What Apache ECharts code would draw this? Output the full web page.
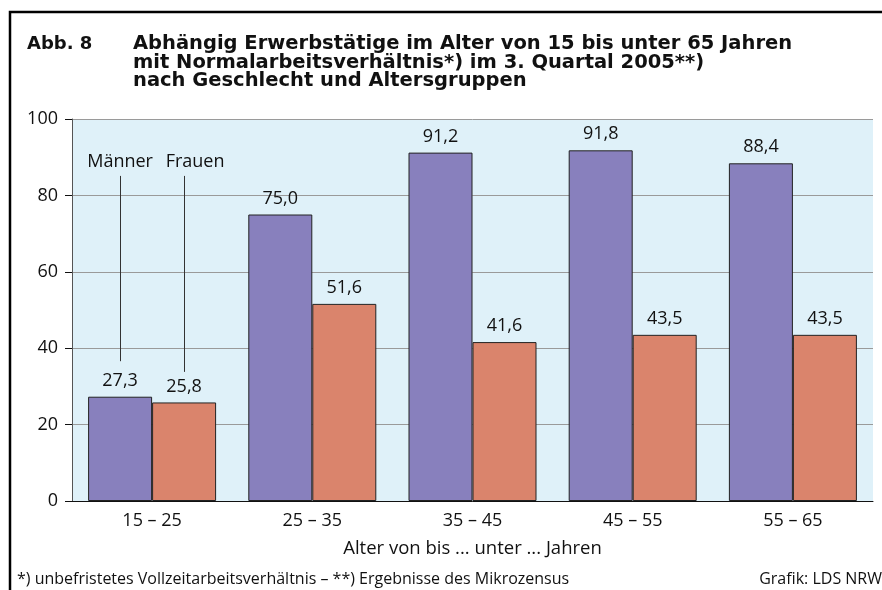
<!DOCTYPE html>
<html>
<head>
<meta charset="utf-8">
<script src="https://cdn.jsdelivr.net/npm/echarts@6/dist/echarts.min.js"></script>
<style>
html, body { margin: 0; padding: 0; background: #fff; }
#main { width: 882px; height: 590px; }
</style>
</head>
<body>
<div id="main"></div>
<script>
var categories = ['15 – 25', '25 – 35', '35 – 45', '45 – 55', '55 – 65'];
var maenner = [27.3, 75.0, 91.2, 91.8, 88.4];
var frauen = [25.8, 51.6, 41.6, 43.5, 43.5];
var yTicks = [0, 20, 40, 60, 80, 100];

var font = 'Open Sans';
var titleFont = 'DejaVu Sans';
var chart = echarts.init(document.getElementById('main'));

function fmt(p) {
    return p.value.toFixed(1).replace('.', ',');
}

chart.setOption({
    animation: false,
    textStyle: { fontFamily: font },
    title: [
        {
            text: 'Abb. 8',
            left: 22, top: 30,
            textStyle: { fontSize: 18, fontWeight: 'bold', color: '#111', lineHeight: 18.5, fontFamily: titleFont }
        },
        {
            text: 'Abhängig Erwerbstätige im Alter von 15 bis unter 65 Jahren\nmit Normalarbeitsverhältnis*) im 3. Quartal 2005**)\nnach Geschlecht und Altersgruppen',
            left: 128, top: 30,
            textStyle: { fontSize: 19.5, fontWeight: 'bold', color: '#111', lineHeight: 18.5, fontFamily: titleFont }
        },
        {
            text: '*) unbefristetes Vollzeitarbeitsverhältnis – **) Ergebnisse des Mikrozensus',
            left: 12, top: 566,
            textStyle: { fontSize: 16, fontWeight: 'normal', color: '#111', fontFamily: font }
        },
        {
            text: 'Grafik: LDS NRW',
            right: -5, top: 566,
            textStyle: { fontSize: 16, fontWeight: 'normal', color: '#111', fontFamily: font }
        }
    ],
    graphic: [
        {
            type: 'rect',
            shape: { x: 10, y: 12, width: 900, height: 600 },
            style: { fill: 'none', stroke: '#000', lineWidth: 2.5 }
        }
    ],
    grid: {
        left: 72, right: 9, top: 119, bottom: 89,
        show: true, backgroundColor: '#dff1f9', borderWidth: 0
    },
    xAxis: {
        type: 'category',
        data: categories,
        name: 'Alter von bis ... unter ... Jahren',
        nameLocation: 'middle',
        nameGap: 38,
        nameTextStyle: { fontSize: 18.5, color: '#111' },
        axisLine: { lineStyle: { color: '#111', width: 1 } },
        axisTick: { show: false },
        axisLabel: { fontSize: 18, color: '#111', margin: 11 }
    },
    yAxis: {
        type: 'value',
        min: yTicks[0], max: yTicks[yTicks.length - 1], interval: 20,
        axisLine: { show: true, lineStyle: { color: '#555', width: 1 } },
        axisTick: { show: true, length: 7, lineStyle: { color: '#111' } },
        axisLabel: { fontSize: 18, color: '#111', margin: 14 },
        splitLine: { lineStyle: { color: '#9a9a9a', width: 1 } }
    },
    series: [
        {
            name: 'Männer',
            type: 'bar',
            data: maenner,
            barWidth: 64,
            barGap: '0%',
            itemStyle: { color: '#8880bd', borderColor: '#222', borderWidth: 1 },
            label: { show: true, position: 'top', distance: 7, fontSize: 18, color: '#111', formatter: fmt },
            markLine: {
                symbol: 'none',
                silent: true,
                lineStyle: { color: '#333', width: 1, type: 'solid' },
                label: { show: true, position: 'end', formatter: 'Männer', fontSize: 18, color: '#111', distance: 5 },
                data: [[{ coord: [0, 36.6] }, { coord: [0, 85.1] }]]
            }
        },
        {
            name: 'Frauen',
            type: 'bar',
            data: frauen,
            barWidth: 64,
            itemStyle: { color: '#da846c', borderColor: '#222', borderWidth: 1 },
            label: { show: true, position: 'top', distance: 7, fontSize: 18, color: '#111', formatter: fmt },
            markLine: {
                symbol: 'none',
                silent: true,
                lineStyle: { color: '#333', width: 1, type: 'solid' },
                label: { show: true, position: 'end', formatter: 'Frauen', fontSize: 18, color: '#111', distance: 5, offset: [11, 0] },
                data: [[{ coord: [0, 33.8] }, { coord: [0, 85.1] }]]
            }
        }
    ]
});
</script>
</body>
</html>
